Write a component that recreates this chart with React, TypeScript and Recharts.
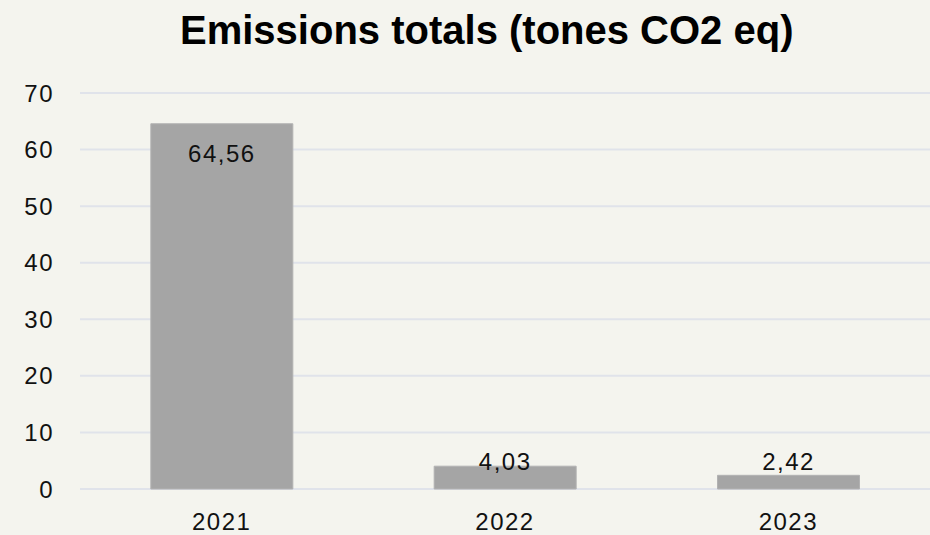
import React from "react";
import { BarChart, Bar, CartesianGrid, XAxis, YAxis, LabelList } from "recharts";

const years = ["2021", "2022", "2023"];
const totals = [64.56, 4.03, 2.42];
const yTicks = [0, 10, 20, 30, 40, 50, 60, 70];

const data = years.map((year, i) => ({ year, total: totals[i] }));

const font = "'Liberation Sans', Arial, sans-serif";

// Excel puts the label inside the bar end, but small bars get it just above the baseline
const ValueLabel = (props: any) => {
  const { x, y, width, value } = props;
  const zeroY = 489;
  const cy = Math.min(y + 30, zeroY - 28);
  return (
    <text
      x={x + width / 2}
      y={cy}
      textAnchor="middle"
      dominantBaseline="central"
      fontFamily={font}
      fontSize={24}
      letterSpacing={1.5}
      fill="#111"
    >
      {String(value).replace(".", ",")}
    </text>
  );
};

const App: React.FC = () => {
  return (
    <div
      style={{
        position: "relative",
        width: 930,
        height: 535,
        background: "#f4f4ee",
      }}
    >
      <style>{`body{margin:0}`}</style>
      <div
        style={{
          position: "absolute",
          top: 10,
          left: 180,
          fontFamily: font,
          fontWeight: 700,
          fontSize: 40,
          lineHeight: "40px",
          whiteSpace: "nowrap",
          color: "#000",
        }}
      >
        Emissions totals (tones CO2 eq)
      </div>
      <BarChart
        width={930}
        height={535}
        data={data}
        margin={{ top: 93, right: 0, left: 0, bottom: 16 }}
        barCategoryGap="25%"
      >
        <CartesianGrid vertical={false} stroke="#e0e3ea" strokeWidth={2} />
        <XAxis
          dataKey="year"
          axisLine={false}
          tickLine={false}
          tickSize={0}
          tickMargin={24}
          height={30}
          tick={{ fontFamily: font, fontSize: 24, fill: "#111", letterSpacing: 1.5 }}
        />
        <YAxis
          domain={[0, 70]}
          ticks={yTicks}
          width={80}
          axisLine={false}
          tickLine={false}
          tickSize={0}
          tickMargin={26}
          tick={{ fontFamily: font, fontSize: 24, fill: "#111", letterSpacing: 1.5 }}
        />
        <Bar dataKey="total" fill="#a5a5a5" stroke="#b2b2b2" strokeWidth={1} isAnimationActive={false}>
          <LabelList dataKey="total" content={<ValueLabel />} />
        </Bar>
      </BarChart>
    </div>
  );
};

export default App;
